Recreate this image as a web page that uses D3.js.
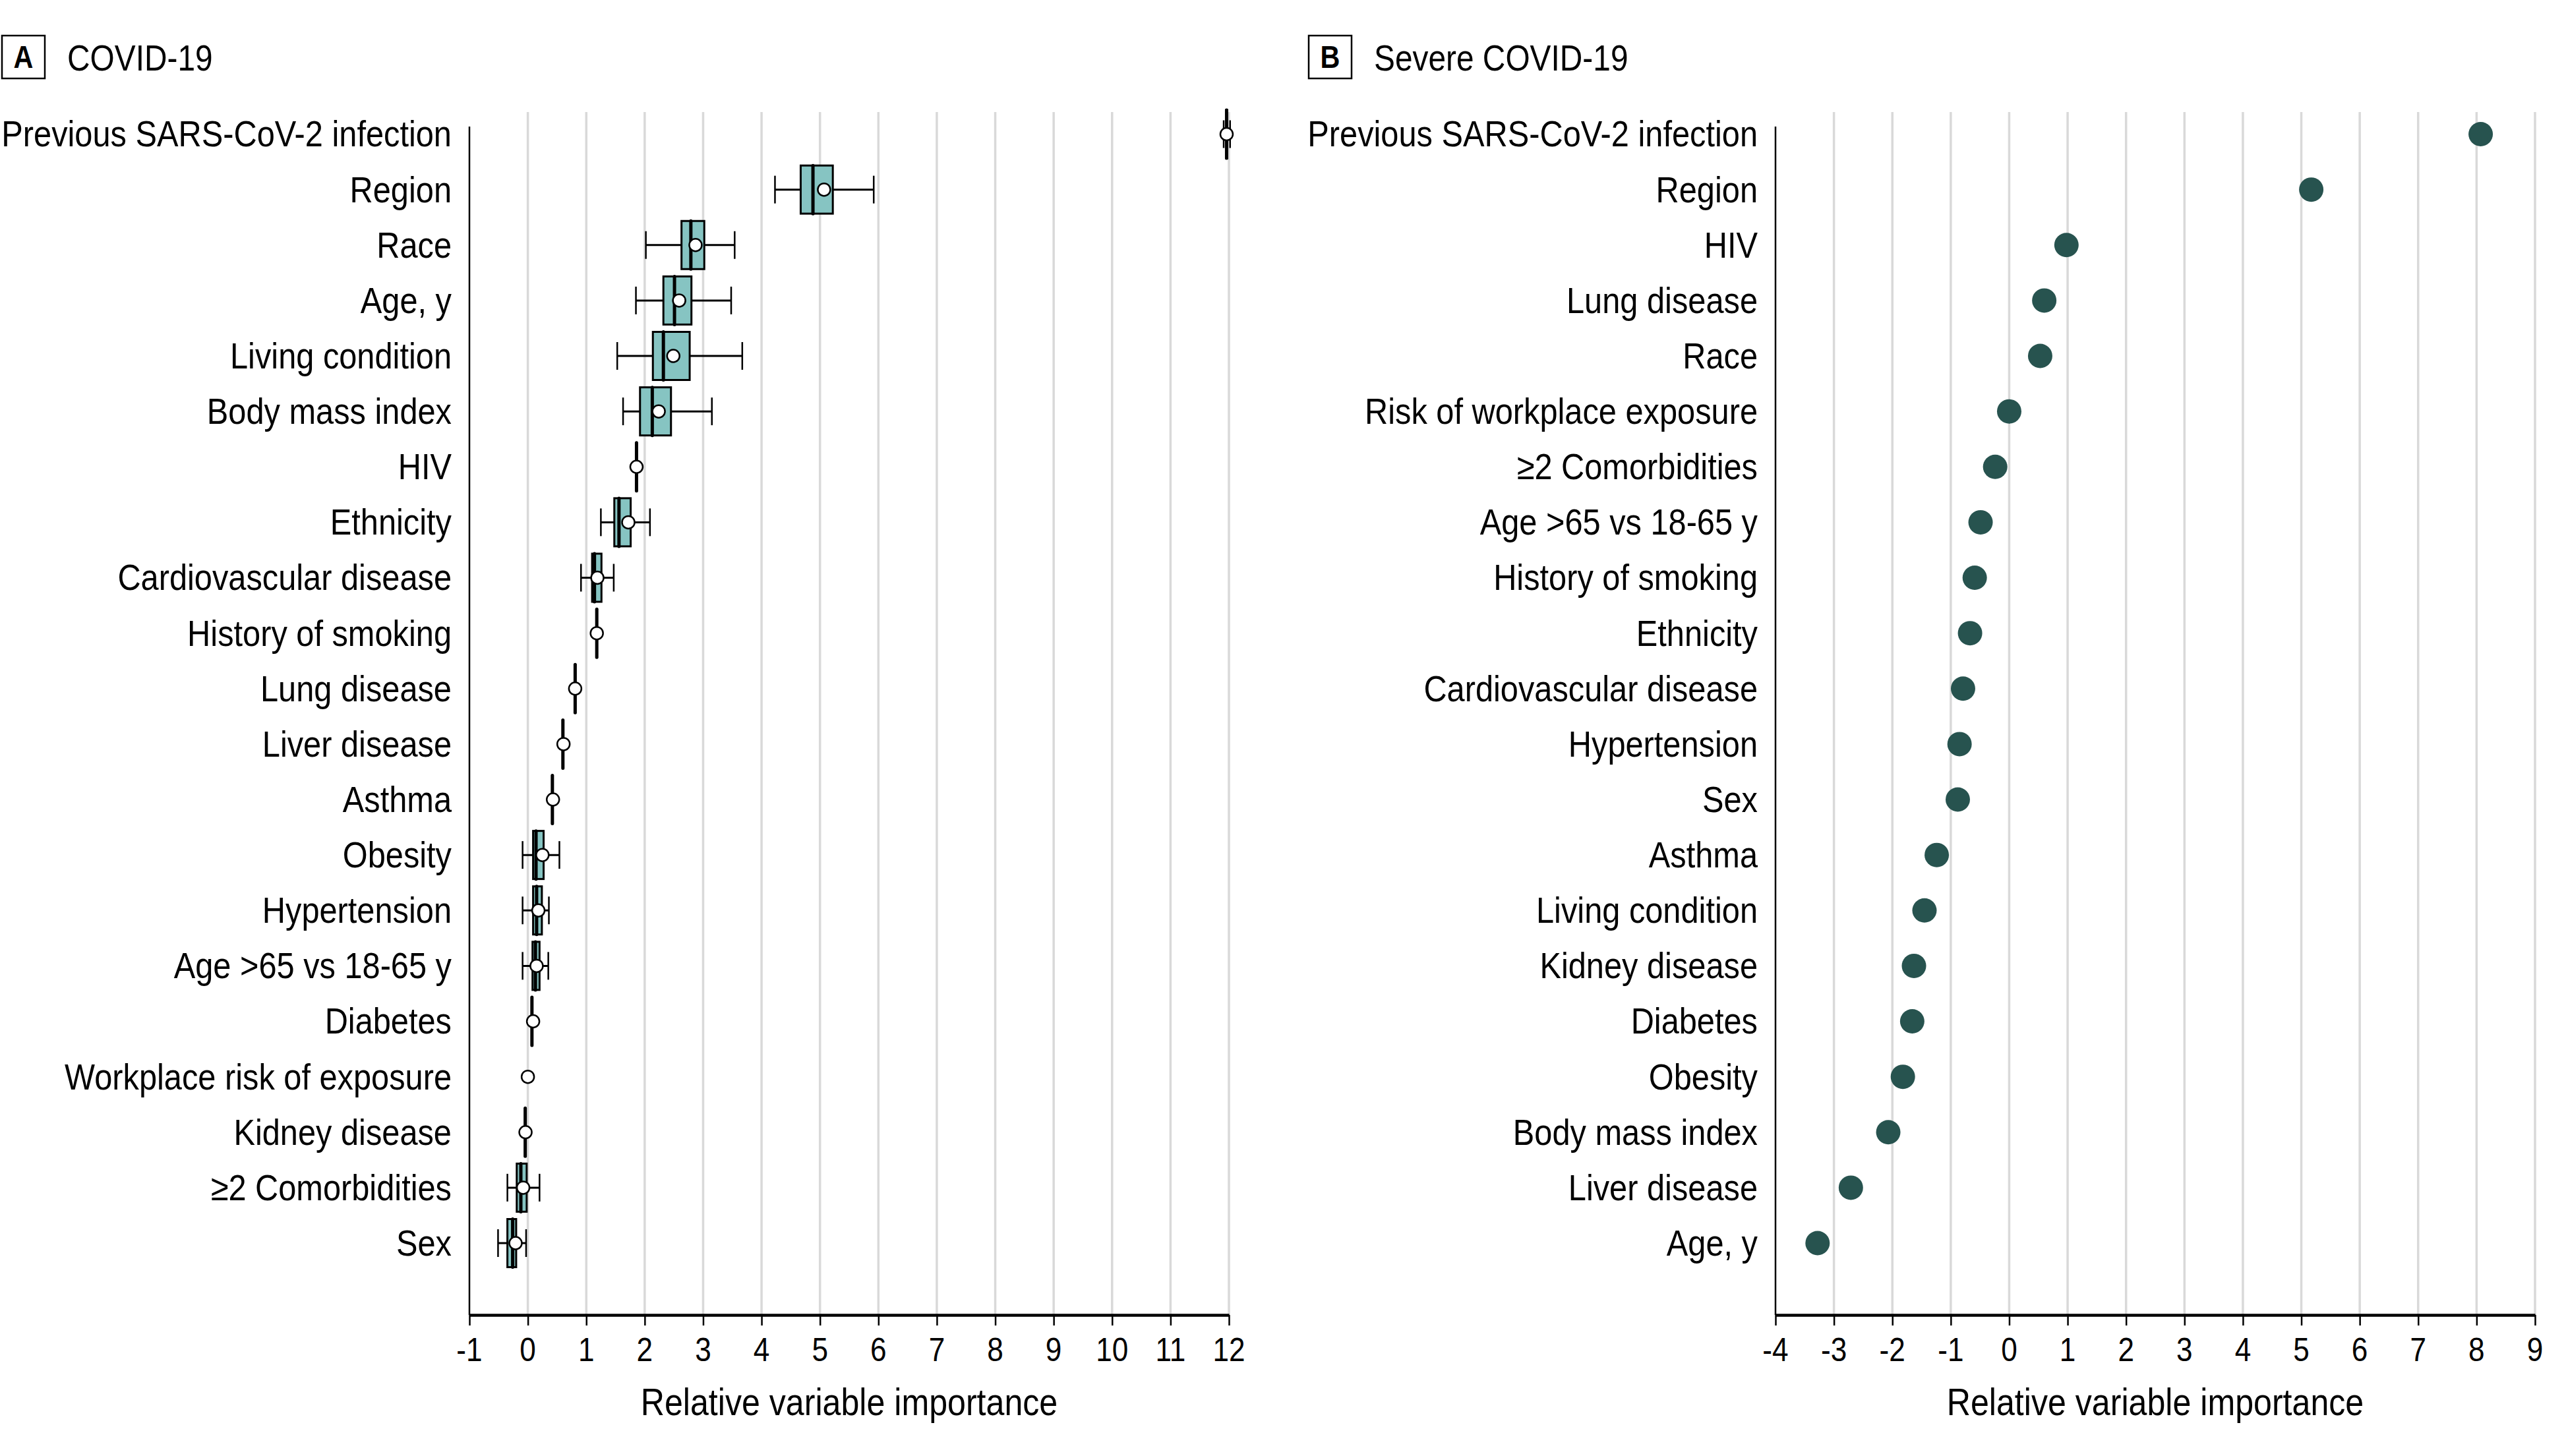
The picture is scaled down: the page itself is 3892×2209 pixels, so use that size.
<!DOCTYPE html>
<html><head><meta charset="utf-8">
<script src="https://cdn.jsdelivr.net/npm/d3@7"></script>
<style>html,body{margin:0;padding:0;background:#fff;}</style>
</head><body>
<svg id="chart" width="3892" height="2209"></svg>
<script>
// ---------- DATA ----------
const catsA = ["Previous SARS-CoV-2 infection","Region","Race","Age, y","Living condition","Body mass index","HIV","Ethnicity","Cardiovascular disease","History of smoking","Lung disease","Liver disease","Asthma","Obesity","Hypertension","Age >65 vs 18-65 y","Diabetes","Workplace risk of exposure","Kidney disease","≥2 Comorbidities","Sex"];
const q1A   = [11.95, 4.67, 2.63, 2.32, 2.14, 1.92, 1.86, 1.48, 1.10, 1.18, 0.81, 0.60, 0.42, 0.09, 0.09, 0.08, 0.07, null, -0.045, -0.19, -0.35];
const medA  = [11.96, 4.88, 2.79, 2.51, 2.32, 2.13, 1.86, 1.56, 1.14, 1.18, 0.81, 0.60, 0.42, 0.14, 0.15, 0.13, 0.07, null, -0.045, -0.12, -0.26];
const q3A   = [11.97, 5.22, 3.02, 2.80, 2.77, 2.45, 1.86, 1.76, 1.26, 1.18, 0.81, 0.60, 0.42, 0.27, 0.24, 0.20, 0.07, null, -0.045, -0.02, -0.20];
const loA   = [11.91, 4.23, 2.02, 1.85, 1.53, 1.63, 1.86, 1.25, 0.91, 1.18, 0.81, 0.60, 0.42, -0.09, -0.09, -0.09, 0.07, null, -0.045, -0.35, -0.51];
const hiA   = [12.02, 5.92, 3.54, 3.48, 3.67, 3.15, 1.86, 2.09, 1.47, 1.18, 0.81, 0.60, 0.42, 0.54, 0.36, 0.35, 0.07, null, -0.045, 0.20, -0.03];
const meanA = [11.96, 5.07, 2.87, 2.59, 2.49, 2.24, 1.86, 1.72, 1.19, 1.18, 0.81, 0.61, 0.43, 0.25, 0.18, 0.15, 0.09, 0.00, -0.04, -0.08, -0.21];

const catsB = ["Previous SARS-CoV-2 infection","Region","HIV","Lung disease","Race","Risk of workplace exposure","≥2 Comorbidities","Age >65 vs 18-65 y","History of smoking","Ethnicity","Cardiovascular disease","Hypertension","Sex","Asthma","Living condition","Kidney disease","Diabetes","Obesity","Body mass index","Liver disease","Age, y"];
const valB  = [8.07, 5.17, 0.98, 0.60, 0.53, 0.00, -0.24, -0.49, -0.59, -0.67, -0.79, -0.85, -0.88, -1.24, -1.45, -1.63, -1.66, -1.82, -2.07, -2.71, -3.28];

const ticksA = d3.range(-1, 13);
const ticksB = d3.range(-4, 10);
const titleA = "COVID-19", titleB = "Severe COVID-19";
const letterA = "A", letterB = "B";
const axisTitle = "Relative variable importance";

// ---------- FONT ----------
function measure(font){ const c=document.createElement("canvas").getContext("2d"); c.font=font; return c.measureText("Previous SARS-CoV-2 infection").width; }
const hasNarrow = Math.abs(measure("100px 'Liberation Sans Narrow'") - measure("100px 'Liberation Sans'")) > 1 &&
                  Math.abs(measure("100px 'Liberation Sans Narrow', monospace") - measure("100px monospace")) > 1;
const FONT = hasNarrow ? "'Liberation Sans Narrow'" : "'Liberation Sans'";
const FS = 1.05;                       // taller glyphs, narrower stretch
const SX = (hasNarrow ? 1.12 : 0.92) / FS;

const svg = d3.select("#chart");
svg.append("rect").attr("width",3892).attr("height",2209).attr("fill","#fff");

function txt(g, x, y, s, size, anchor, weight){
  return g.append("text").attr("x", x/SX).attr("y", y)
    .attr("transform", `scale(${SX},1)`)
    .attr("font-family", FONT).attr("font-size", size*FS)
    .attr("font-weight", weight || "normal")
    .attr("text-anchor", anchor || "start").attr("fill", "#000").text(s);
}

const GRID = "#d9d9d9", BOXFILL = "#86c4c2", DOT = "#27534f";
const yTop = 203.5, yBot = 1886;
const axisY = 1995, gridTop = 170, yAxisTop = 192;

function panel(opt){
  const g = svg.append("g");
  const x = d3.scaleLinear().domain(opt.domain).range(opt.range);
  const y = d3.scalePoint().domain(opt.cats).range([yTop, yBot]);
  g.selectAll("line.grid").data(opt.ticks.slice(1)).join("line")
    .attr("x1", d=>x(d)).attr("x2", d=>x(d)).attr("y1", gridTop).attr("y2", axisY)
    .attr("stroke", GRID).attr("stroke-width", 3.5);
  g.append("line").attr("x1", opt.range[0]).attr("x2", opt.range[0])
    .attr("y1", yAxisTop).attr("y2", axisY).attr("stroke","#000").attr("stroke-width",2.5);
  const ax = g.append("g").attr("transform", `translate(0,${axisY})`)
    .call(d3.axisBottom(x).tickValues(opt.ticks).tickFormat(d=>String(d)).tickSize(16).tickSizeOuter(0));
  ax.select(".domain").attr("stroke","#000").attr("stroke-width",4.5);
  ax.selectAll(".tick line").attr("stroke","#000").attr("stroke-width",2.5);
  ax.selectAll(".tick text").remove();
  opt.ticks.forEach(t => txt(g, x(t), 2065, String(t), 48, "middle"));
  txt(g, (opt.range[0]+opt.range[1])/2, 2147, axisTitle, 54.5, "middle");
  opt.cats.forEach(c => txt(g, opt.range[0]-27, y(c)+19, c, 53, "end"));
  g.append("rect").attr("x", opt.boxX).attr("y", 54).attr("width", 65).attr("height", 65)
    .attr("fill","none").attr("stroke","#000").attr("stroke-width",2.5);
  txt(g, opt.boxX+32.5, 103, opt.letter, 45, "middle", "bold");
  txt(g, opt.boxX+99, 107, opt.title, 52, "start");
  return {g, x, y};
}

// Panel A
const A = panel({domain:[-1,12], range:[712,1864], cats:catsA, ticks:ticksA, boxX:3, letter:letterA, title:titleA});
const BH = 73, CAP = 42;
const rowsA = catsA.map((c,i)=>({c, q1:q1A[i], med:medA[i], q3:q3A[i], lo:loA[i], hi:hiA[i], mean:meanA[i]}));
const bg = A.g.append("g");
rowsA.forEach(r=>{
  const yc = A.y(r.c);
  if (r.q1 === null) return;
  const hasWh = r.lo < r.q1 || r.hi > r.q3;
  if (hasWh){
    bg.append("line").attr("x1",A.x(r.lo)).attr("x2",A.x(r.hi)).attr("y1",yc).attr("y2",yc).attr("stroke","#000").attr("stroke-width",3);
    [r.lo, r.hi].forEach(v=> bg.append("line").attr("x1",A.x(v)).attr("x2",A.x(v)).attr("y1",yc-CAP/2).attr("y2",yc+CAP/2).attr("stroke","#000").attr("stroke-width",2.5));
  }
  bg.append("rect").attr("x",A.x(r.q1)).attr("y",yc-BH/2).attr("width",Math.max(0,A.x(r.q3)-A.x(r.q1))).attr("height",BH)
    .attr("fill",BOXFILL).attr("stroke","#000").attr("stroke-width",3);
  bg.append("line").attr("x1",A.x(r.med)).attr("x2",A.x(r.med)).attr("y1",yc-BH/2).attr("y2",yc+BH/2)
    .attr("stroke","#000").attr("stroke-width",5).attr("stroke-linecap","round");
});
bg.selectAll("circle").data(rowsA).join("circle")
  .attr("cx", d=>A.x(d.mean)).attr("cy", d=>A.y(d.c)).attr("r", 9.5)
  .attr("fill","#fff").attr("stroke","#000").attr("stroke-width",2.5);

// Panel B
const B = panel({domain:[-4,9], range:[2693,3845], cats:catsB, ticks:ticksB, boxX:1985, letter:letterB, title:titleB});
B.g.append("g").selectAll("circle").data(catsB.map((c,i)=>({c, v:valB[i]}))).join("circle")
  .attr("cx", d=>B.x(d.v)).attr("cy", d=>B.y(d.c)).attr("r", 18.5).attr("fill", DOT);
</script>
</body></html>
